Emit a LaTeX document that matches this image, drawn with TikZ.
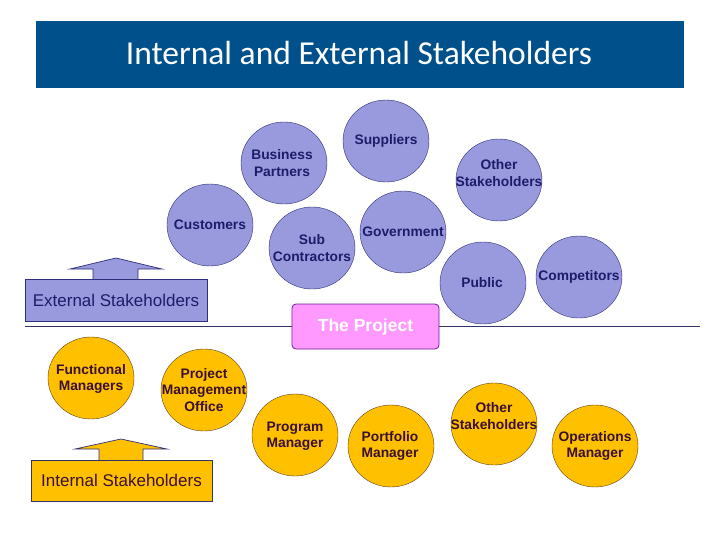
\documentclass[tikz,border=0pt]{standalone}
\usepackage{fontspec}
\setmainfont{Liberation Sans}
\newfontfamily\titlefont{Carlito}
\usetikzlibrary{shapes.geometric}
\definecolor{titleblue}{HTML}{00508C}
\definecolor{pfill}{HTML}{9999DD}
\definecolor{pdraw}{HTML}{2E2E7A}
\definecolor{ptext}{HTML}{1C1C6B}
\definecolor{ofill}{HTML}{FFC000}
\definecolor{odraw}{HTML}{5F3F1F}
\definecolor{otext}{HTML}{3A1030}
\definecolor{prfill}{HTML}{FF99FF}
\definecolor{prdraw}{HTML}{6A1B9A}
\definecolor{linecol}{HTML}{333366}
\tikzset{
  pcirc/.style={ellipse,draw=pdraw,fill=pfill,minimum width=86pt,minimum height=82pt,inner sep=0pt},
  ocirc/.style={ellipse,draw=odraw,fill=ofill,minimum width=86pt,minimum height=82pt,inner sep=0pt},
  ptxt/.style={align=center,text=ptext,inner sep=0pt,font=\fontsize{13.8}{16.5}\selectfont\bfseries},
  otxt/.style={align=center,text=otext,inner sep=0pt,font=\fontsize{13.8}{16.5}\selectfont\bfseries},
}
\begin{document}
\begin{tikzpicture}[x=1pt,y=-1pt]
\useasboundingbox (0,0) rectangle (720,540);
% title
\fill[titleblue] (36,21) rectangle (684,88);
\node[text=white,font=\titlefont\fontsize{33.5}{38}\selectfont] (title) at (359,53) {Internal and External Stakeholders};
% divider line
\coordinate (lineL) at (25,326);
\coordinate (lineR) at (700,326);
\draw[linecol,line width=0.9pt] (lineL) -- (lineR);
% external circles
\node[pcirc] (sup) at (386,141) {};
\node[ptxt] (supT) at (386,141) {Suppliers};
\node[pcirc] (bp) at (284,163) {};
\node[ptxt] (bpT) at (282,163) {Business\\Partners};
\node[pcirc] (os1) at (499,180) {};
\node[ptxt] (os1T) at (499,173) {Other\\Stakeholders};
\node[pcirc] (cus) at (210,225) {};
\node[ptxt] (cusT) at (210,225) {Customers};
\node[pcirc] (sub) at (312,248) {};
\node[ptxt] (subT) at (312,248) {Sub\\Contractors};
\node[pcirc] (gov) at (403,232) {};
\node[ptxt] (govT) at (403,232) {Government};
\node[pcirc] (pub) at (483,283) {};
\node[ptxt] (pubT) at (482,283) {Public};
\node[pcirc] (comp) at (579,277) {};
\node[ptxt] (compT) at (579,277) {Competitors};
% external arrow and box
\filldraw[fill=pfill,draw=pdraw,line width=0.7pt] (93,280) -- (93,269) -- (70,269) -- (116,258) -- (162,269) -- (138,269) -- (138,280);
\node[draw=pdraw,fill=pfill,line width=0.7pt,minimum width=182pt,minimum height=42pt,inner sep=0pt,text=ptext,font=\fontsize{17}{19}\selectfont] (ext) at (116,300) {External Stakeholders};
% project
\node[draw=prdraw,fill=prfill,rounded corners=4pt,line width=0.8pt,minimum width=147pt,minimum height=45pt,inner sep=0pt,text=white,font=\fontsize{17.5}{20}\selectfont\bfseries] (proj) at (365.5,326.5) {The Project};
% internal circles
\node[ocirc] (fm) at (91,378) {};
\node[otxt] (fmT) at (91,379) {Functional\\Managers};
\node[ocirc] (pmo) at (204,390) {};
\node[otxt] (pmoT) at (204,390) {Project\\Management\\Office};
\node[ocirc] (prg) at (295,435) {};
\node[otxt] (prgT) at (295,436) {Program\\Manager};
\node[ocirc] (port) at (391,446) {};
\node[otxt] (portT) at (390,446) {Portfolio\\Manager};
\node[ocirc] (os2) at (494,424) {};
\node[otxt] (os2T) at (494,416) {Other\\Stakeholders};
\node[ocirc] (ops) at (595,446) {};
\node[otxt] (opsT) at (595,446) {Operations\\Manager};
% internal arrow and box
\filldraw[fill=ofill,draw=pdraw,line width=0.7pt] (99,461) -- (99,449) -- (75,449) -- (121,439) -- (167,449) -- (143,449) -- (143,461);
\node[draw=linecol,fill=ofill,line width=0.7pt,minimum width=181pt,minimum height=41pt,inner sep=0pt,text=otext,font=\fontsize{17}{19}\selectfont] (int) at (121.5,480.5) {Internal Stakeholders};
\end{tikzpicture}
\end{document}
